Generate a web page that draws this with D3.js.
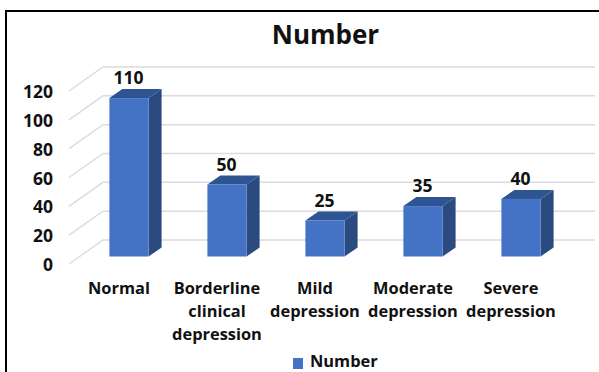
<!DOCTYPE html>
<html>
<head>
<meta charset="utf-8">
<script src="https://cdn.jsdelivr.net/npm/d3@7"></script>
<style>
  html, body { margin: 0; padding: 0; background: #fff; overflow: hidden; }
  text { font-family: "Open Sans", sans-serif; font-weight: 700; fill: #111; }
</style>
</head>
<body>
<div id="chart"></div>
<script>
var categories = ["Normal", "Borderline clinical depression", "Mild depression", "Moderate depression", "Severe depression"];
var values = [110, 50, 25, 35, 40];
var yTicks = [0, 20, 40, 60, 80, 100, 120];

function init() {
  var w = 599;
  var h = 372;
  // 3d look: back wall is offset from the front plane
  var wallDx = 34;
  var wallDy = 24;
  var barDx = 13;
  var barDy = 9;

  var svg = d3.select("#chart")
    .append("svg")
    .attr("width", w)
    .attr("height", h)
    .style("display", "block");

  // frame, cut off at right and bottom like the source
  svg.append("path")
    .attr("d", "M6," + h + "V11H" + w)
    .attr("fill", "none")
    .attr("stroke", "#000")
    .attr("stroke-width", 2);

  svg.append("text")
    .attr("x", 325.5)
    .attr("y", 44)
    .attr("text-anchor", "middle")
    .style("font-size", "26px")
    .text("Number");

  var xScale = d3.scaleBand()
    .domain(categories)
    .range([80, 570])
    .paddingInner(0.6)
    .paddingOuter(0.3);

  // y on the front plane of the floor/wall, used by the axis labels
  var yAxisScale = d3.scaleLinear().domain([0, 120]).range([264, 91]);
  // y of the bars, they stand a bit behind the front plane
  var yBar = d3.scaleLinear().domain([0, 120]).range([256.5, 83.7]);

  var grid = svg.append("g")
    .attr("fill", "none")
    .attr("stroke", "#dcdcdc")
    .attr("stroke-width", 1.5);

  grid.selectAll("path")
    .data(yTicks)
    .enter()
    .append("path")
    .attr("d", function (d) {
      var y = yAxisScale(d);
      return "M69," + y + "L" + (69 + wallDx) + "," + (y - wallDy) + "H595";
    });

  var yAxis = d3.axisLeft(yAxisScale)
    .tickValues(yTicks)
    .tickSize(0)
    .tickPadding(0);

  svg.append("g")
    .attr("transform", "translate(53,1)")
    .call(yAxis)
    .call(function (g) { g.select(".domain").remove(); })
    .selectAll("text")
    .style("font-size", "17.5px")
    .attr("fill", null);

  var bars = svg.selectAll(".bar")
    .data(values)
    .enter()
    .append("g")
    .attr("class", "bar");

  function barX(i) {
    return xScale(categories[i]);
  }

  // side face
  bars.append("path")
    .attr("fill", "#2b4a80")
    .attr("d", function (d, i) {
      var x = barX(i) + xScale.bandwidth();
      return "M" + x + "," + yBar(d) +
        "l" + barDx + "," + (-barDy) +
        "V" + (yBar(0) - barDy) +
        "l" + (-barDx) + "," + barDy + "Z";
    });

  // top face
  bars.append("path")
    .attr("fill", "#2f5494")
    .attr("d", function (d, i) {
      var x = barX(i);
      return "M" + x + "," + yBar(d) +
        "l" + barDx + "," + (-barDy) +
        "h" + xScale.bandwidth() +
        "l" + (-barDx) + "," + barDy + "Z";
    });

  // front face
  bars.append("rect")
    .attr("fill", "#4472c4")
    .attr("x", function (d, i) { return barX(i); })
    .attr("y", function (d) { return yBar(d); })
    .attr("width", xScale.bandwidth())
    .attr("height", function (d) { return yBar(0) - yBar(d); });

  // value labels
  bars.append("text")
    .attr("x", function (d, i) { return barX(i) + xScale.bandwidth() / 2 - 0.5; })
    .attr("y", function (d) { return yBar(d) - 14; })
    .attr("text-anchor", "middle")
    .style("font-size", "17.5px")
    .text(function (d) { return d; });

  // category labels, line breaks as in the source
  var lineSets = [
    ["Normal"],
    ["Borderline", "clinical", "depression"],
    ["Mild", "depression"],
    ["Moderate", "depression"],
    ["Severe", "depression"]
  ];

  var cats = svg.selectAll(".cat")
    .data(categories)
    .enter()
    .append("text")
    .attr("class", "cat")
    .attr("text-anchor", "middle")
    .style("font-size", "16.4px");

  cats.selectAll("tspan")
    .data(function (d, i) {
      return lineSets[i].map(function (t) {
        return { t: t, c: d };
      });
    })
    .enter()
    .append("tspan")
    .attr("x", function (d) { return xScale(d.c) + xScale.bandwidth() / 2 - 10; })
    .attr("y", function (d, i) { return 294 + i * 23; })
    .text(function (d) { return d.t; });

  // legend
  svg.append("rect")
    .attr("x", 293)
    .attr("y", 358)
    .attr("width", 10)
    .attr("height", 11)
    .attr("fill", "#4472c4");

  svg.append("text")
    .attr("x", 310)
    .attr("y", 367)
    .style("font-size", "16.4px")
    .text("Number");
}

window.onload = init;
</script>
</body>
</html>
